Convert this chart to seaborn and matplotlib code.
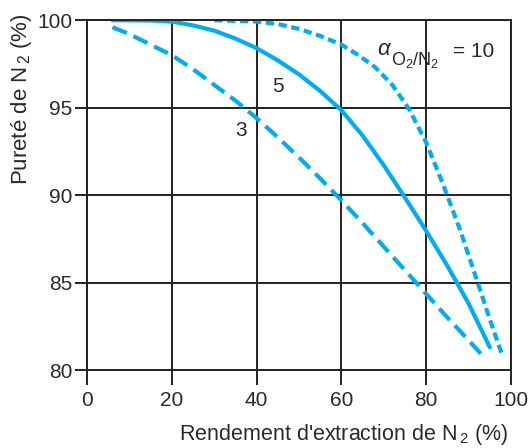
import numpy as np
import pandas as pd
import matplotlib
matplotlib.use('Agg')
import matplotlib.pyplot as plt
import seaborn as sns

# --- data ---
rend_3 = [6, 10, 15, 20, 25, 30, 35, 40, 45, 50, 55, 60, 65, 70, 75, 80, 85, 90, 93]
pur_3 = [99.6, 99.2, 98.6, 98.0, 97.2, 96.3, 95.4, 94.4, 93.3, 92.15, 90.95, 89.7,
         88.4, 87.05, 85.7, 84.35, 83.0, 81.7, 80.9]

rend_5 = [6, 15, 20, 25, 30, 35, 40, 45, 50, 55, 60, 65, 70, 75, 80, 85, 90, 95]
pur_5 = [100.0, 99.98, 99.92, 99.7, 99.4, 98.95, 98.4, 97.7, 96.9, 95.95, 94.85,
         93.4, 91.7, 89.85, 87.95, 85.95, 83.8, 81.3]

rend_10 = [30, 40, 45, 50, 55, 60, 64, 68, 72, 76, 80, 84, 88, 92, 95, 98]
pur_10 = [100.0, 99.92, 99.78, 99.5, 99.1, 98.6, 98.0, 97.3, 96.3, 94.9, 93.0,
          90.6, 88.0, 85.1, 82.9, 80.8]

x_ticks = [0, 20, 40, 60, 80, 100]
y_ticks = [80, 85, 90, 95, 100]

blue = '#00AEEF'
ink = '#2a2a2a'
grid = '#222222'

sns.set_style('white')
plt.rcParams['font.family'] = ['Liberation Sans', 'DejaVu Sans']
plt.rcParams['mathtext.fontset'] = 'custom'
plt.rcParams['mathtext.rm'] = 'Liberation Sans'
plt.rcParams['mathtext.it'] = 'Liberation Sans:italic'

fig = plt.figure(figsize=(5.29, 4.48), dpi=100)
ax = fig.add_axes([0.1645, 0.174, 0.8015, 0.781])

sns.lineplot(x=rend_3, y=pur_3, ax=ax, color=blue, linewidth=3,
             linestyle=(0, (3.7, 1.8)))
sns.lineplot(x=rend_5, y=pur_5, ax=ax, color=blue, linewidth=3)
sns.lineplot(x=rend_10, y=pur_10, ax=ax, color=blue, linewidth=3,
             linestyle=(0, (2.0, 1.1)))

ax.set_xlim(0, 100)
ax.set_ylim(80, 100)
ax.set_xticks(x_ticks)
ax.set_yticks(y_ticks)
ax.grid(True, color=grid, linewidth=1.4)
ax.set_axisbelow(True)
for s in ax.spines.values():
    s.set_color(grid)
    s.set_linewidth(1.4)

ax.tick_params(axis='y', direction='out', length=8.5, width=1.4, color=grid,
               pad=2, labelsize=15, labelcolor=ink, left=True)
ax.tick_params(axis='x', direction='out', length=11, width=1.4, color=grid,
               pad=4, labelsize=15, labelcolor=ink, bottom=True)

# axis titles
fig.text(508 / 529, 1 - 440 / 448, r"Rendement d'extraction de N$_{\,2}$ (%)",
         fontsize=15.5, color=ink, ha='right', va='baseline')
fig.text(22 / 529, 1 - 13 / 448, r'Pureté de N$_{\,2}$ (%)', rotation=90,
         fontsize=16, color=ink, ha='center', va='top')

# curve labels
ax.text(36.3, 93.7, '3', fontsize=15, color=ink, ha='center', va='center')
ax.text(45.0, 96.2, '5', fontsize=15, color=ink, ha='center', va='center')

# alpha O2/N2 = 10
ax.text(68.4, 98.0, 'α', fontsize=16, style='italic', color=ink,
        ha='left', va='baseline')
ax.text(71.7, 97.43, 'O$_2$/N$_2$', fontsize=13, color=ink,
        ha='left', va='baseline')
ax.text(86.3, 97.89, '= 10', fontsize=15, color=ink, ha='left', va='baseline')

fig.savefig('out.png', dpi=100)
